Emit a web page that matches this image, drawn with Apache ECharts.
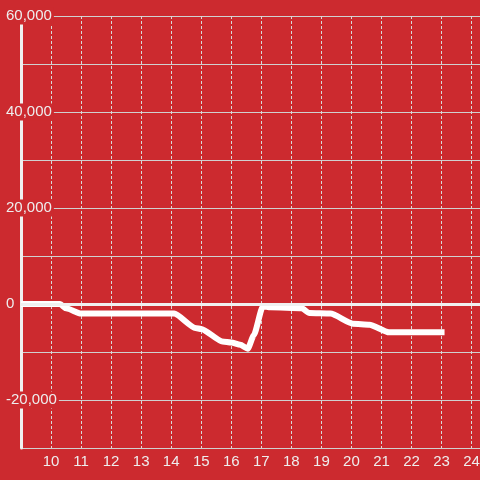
<!DOCTYPE html>
<html>
<head>
<meta charset="utf-8">
<script src="https://cdn.jsdelivr.net/npm/echarts@6/dist/echarts.min.js"></script>
<style>
  html, body { margin: 0; padding: 0; background: #cc2a2f; }
  #chart { width: 480px; height: 480px; }
</style>
</head>
<body>
<div id="chart"></div>
<script>
// hours on the x axis, values on the y axis
const hours = [9, 10.3, 10.5, 11, 14.1, 14.8, 15, 15.7, 16, 16.3, 16.55, 16.75, 17.05, 17.3, 18.35, 18.6, 19.3, 20.05, 20.6, 21.25, 23.1];
const values = [0, 0, -900, -2000, -2000, -5000, -5200, -7800, -8000, -8500, -9300, -6500, -500, -700, -900, -1900, -2000, -4100, -4300, -5900, -5900];

const bg = "#cc2a2f";
const font = "'Liberation Sans', Arial, sans-serif";

const chart = echarts.init(document.getElementById("chart"));

const option = {
  backgroundColor: bg,
  animation: false,
  grid: { left: 21, right: 0, top: 16, bottom: 32, outerBoundsMode: "none" },
  xAxis: {
    type: "value",
    min: 9,
    max: 24.28,
    interval: 1,
    axisLine: { show: false },
    axisTick: { show: false },
    axisLabel: {
      color: "#eeeeee",
      fontSize: 15,
      fontFamily: font,
      margin: 6,
      showMinLabel: false,
      showMaxLabel: false,
    },
    splitLine: {
      show: true,
      lineStyle: { color: "#d8d8d8", type: [3, 2], width: 1 },
    },
  },
  yAxis: {
    type: "value",
    min: -30000,
    max: 60000,
    interval: 10000,
    axisLine: { show: true, lineStyle: { color: "#f0f0f0", width: 3 } },
    axisTick: { show: false },
    axisLabel: {
      color: "#eeeeee",
      fontSize: 15,
      fontFamily: font,
      align: "left",
      margin: 15,
      backgroundColor: bg,
      padding: [1, 2, 1, 0],
      formatter: (v) => (v % 20000 === 0 && v > -30000 ? v.toLocaleString("en-US") : ""),
    },
    splitLine: {
      show: true,
      lineStyle: { color: "#d0d0d0", width: 1 },
    },
  },
  series: [
    {
      type: "line",
      data: hours.map((h, i) => [h, values[i]]),
      symbol: "none",
      smooth: 0.2,
      smoothMonotone: "x",
      lineStyle: { color: "#ffffff", width: 6, join: "round" },
      markLine: {
        silent: true,
        symbol: "none",
        label: { show: false },
        lineStyle: { color: "#f0f0f0", width: 3, type: "solid" },
        data: [{ yAxis: 0 }],
      },
    },
  ],
};

chart.setOption(option);
</script>
</body>
</html>
